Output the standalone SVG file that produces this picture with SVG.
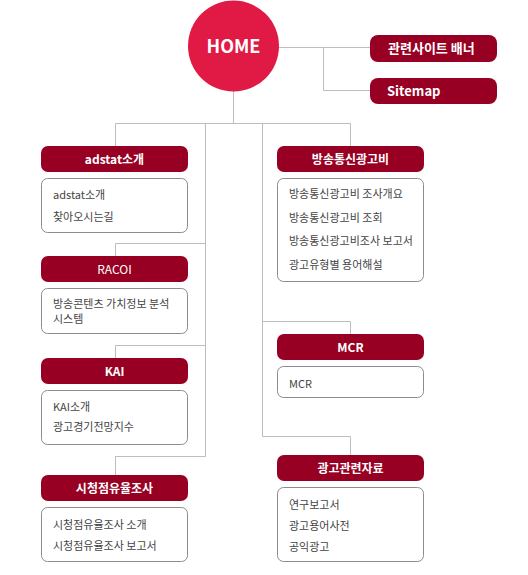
<svg xmlns="http://www.w3.org/2000/svg" width="528" height="575" viewBox="0 0 528 575">
<style>
.hd{fill:#970023}
.box{fill:#fff;stroke:#8c8c8c;stroke-width:1}
.ht{fill:#fff;font-family:"Noto Sans CJK KR","Noto Sans",sans-serif;font-size:12px;font-weight:bold;text-anchor:middle}
.tt{fill:#fff;font-family:"Noto Sans CJK KR","Noto Sans",sans-serif;font-size:13px;font-weight:bold}
.ct{fill:#444;font-family:"Noto Sans CJK KR","Noto Sans",sans-serif;font-size:11px}
.ln{fill:none;stroke:#bdbdbd;stroke-width:1}
</style>
<g id="connectors" class="ln">
<path d="M233.5 91V123.5M115.5 123.5H350.5M115.5 123.5V146M205.5 123.5V456.5M262.5 123.5V436.5M350.5 123.5V146"/>
<path d="M205.5 243.5H115.5V256M205.5 345.5H115.5V358M205.5 456.5H115.5V475"/>
<path d="M262.5 321.5H350.5V334M262.5 436.5H350.5V455"/>
<path d="M279 47.5H370M323.5 47.5V90.5H370"/>
</g>
<g id="home">
<circle cx="233.5" cy="46" r="45.5" fill="#e01a44"/>
<text x="233.5" y="53" fill="#fff" font-family="'Noto Sans CJK KR','Noto Sans',sans-serif" font-size="18" font-weight="bold" text-anchor="middle">HOME</text>
</g>
<g id="banner">
<rect class="hd" x="370" y="35" width="127" height="27" rx="8"/>
<text class="tt" x="388" y="53">관련사이트 배너</text>
</g>
<g id="sitemap">
<rect class="hd" x="370" y="78" width="127" height="26" rx="8"/>
<text class="tt" x="387" y="96">Sitemap</text>
</g>
<g id="adstat">
<rect class="hd" x="41" y="146" width="147" height="26" rx="7"/>
<text class="ht" x="114.5" y="163.5">adstat소개</text>
<rect class="box" x="41.5" y="178.5" width="146" height="54" rx="6"/>
<text class="ct" x="53" y="199">adstat소개</text>
<text class="ct" x="53" y="221">찾아오시는길</text>
</g>
<g id="racoi">
<rect class="hd" x="41" y="256" width="147" height="26" rx="7"/>
<text class="ht" x="114.5" y="273.5" font-weight="normal" style="font-weight:normal">RACOI</text>
<rect class="box" x="41.5" y="288.5" width="146" height="45" rx="6"/>
<text class="ct" x="53" y="308">방송콘텐츠 가치정보 분석</text>
<text class="ct" x="53" y="323">시스템</text>
</g>
<g id="kai">
<rect class="hd" x="41" y="358" width="147" height="26" rx="7"/>
<text class="ht" x="114.5" y="375.5">KAI</text>
<rect class="box" x="41.5" y="390.5" width="146" height="54" rx="6"/>
<text class="ct" x="53" y="411">KAI소개</text>
<text class="ct" x="53" y="431">광고경기전망지수</text>
</g>
<g id="share">
<rect class="hd" x="41" y="475" width="147" height="26" rx="7"/>
<text class="ht" x="114.5" y="492.5">시청점유율조사</text>
<rect class="box" x="41.5" y="507.5" width="146" height="54" rx="6"/>
<text class="ct" x="53" y="529">시청점유율조사 소개</text>
<text class="ct" x="53" y="550">시청점유율조사 보고서</text>
</g>
<g id="adcost">
<rect class="hd" x="277" y="146" width="147" height="26" rx="7"/>
<text class="ht" x="350.5" y="163.5">방송통신광고비</text>
<rect class="box" x="277.5" y="178.5" width="146" height="103" rx="6"/>
<text class="ct" x="289" y="198">방송통신광고비 조사개요</text>
<text class="ct" x="289" y="221.5">방송통신광고비 조회</text>
<text class="ct" x="289" y="245">방송통신광고비조사 보고서</text>
<text class="ct" x="289" y="268.5">광고유형별 용어해설</text>
</g>
<g id="mcr">
<rect class="hd" x="277" y="334" width="147" height="26" rx="7"/>
<text class="ht" x="350.5" y="351.5">MCR</text>
<rect class="box" x="277.5" y="366.5" width="146" height="31" rx="6"/>
<text class="ct" x="289" y="387.5">MCR</text>
</g>
<g id="materials">
<rect class="hd" x="277" y="455" width="147" height="26" rx="7"/>
<text class="ht" x="350.5" y="472.5">광고관련자료</text>
<rect class="box" x="277.5" y="487.5" width="146" height="74" rx="6"/>
<text class="ct" x="289" y="509">연구보고서</text>
<text class="ct" x="289" y="530">광고용어사전</text>
<text class="ct" x="289" y="551">공익광고</text>
</g>
</svg>
